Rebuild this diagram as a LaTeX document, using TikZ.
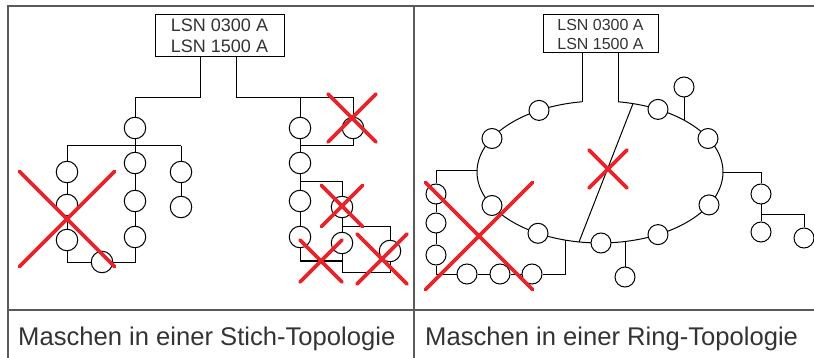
\documentclass[tikz,border=0pt]{standalone}
\usepackage{fontspec}
\setmainfont{Liberation Sans}
\usetikzlibrary{shapes.misc,backgrounds}
\definecolor{xred}{HTML}{E8232A}
\definecolor{framec}{HTML}{5A5A5A}
\definecolor{txt}{HTML}{333333}
\begin{document}
\begin{tikzpicture}[x=1pt,y=-1pt,
  dev/.style={circle, draw, fill=white, minimum size=21.5pt, inner sep=0pt, line width=1pt},
  devs/.style={dev, minimum size=20pt},
  wire/.style={line width=1pt},
  frameline/.style={draw=framec, line width=1.8pt},
  lbox/.style={draw, fill=white, line width=1pt, align=center, inner sep=0pt, text=txt},
  redx/.style={cross out, draw=xred, line width=3.6pt, line cap=round, inner sep=0pt, outer sep=0pt, minimum size=#1},
  caption/.style={anchor=base west, inner sep=0pt, text=txt, font=\fontsize{25.6}{30}\selectfont}]
\useasboundingbox (0,0) rectangle (814,358);

% ---------- left panel ----------
\node[lbox, minimum width=129pt, minimum height=42pt, font=\fontsize{18}{21}\selectfont] (B1) at (219.5,36) {LSN 0300 A\\LSN 1500 A};
\node[dev] (A1) at (135,128) {};
\node[dev] (A2) at (135,163) {};
\node[dev] (A3) at (135,201) {};
\node[dev] (A4) at (135,237) {};
\node[dev] (L1) at (67,172) {};
\node[dev] (L2) at (67,205) {};
\node[dev] (L3) at (67,240) {};
\node[dev] (R1) at (181,172) {};
\node[dev] (R2) at (181,207) {};
\node[dev] (C1) at (102,262) {};
\node[dev] (P1) at (300,128) {};
\node[dev] (P2) at (353,128) {};
\node[dev] (P3) at (300,163) {};
\node[dev] (P4) at (300,201) {};
\node[dev] (P5) at (300,237) {};
\node[dev] (Q1) at (342,207) {};
\node[dev] (Q2) at (342,243) {};
\node[dev] (Q3) at (390,251) {};

\coordinate (b1a) at (200,57);
\coordinate (b1b) at (236,57);
\coordinate (j1) at (200,98);
\coordinate (j2) at (236,98);
\coordinate (h1) at (67,146);
\coordinate (h2) at (181,146);
\coordinate (k1) at (300,98);
\coordinate (k2) at (300,146);
\coordinate (k3) at (300,182);
\coordinate (m1) at (342,227);
\coordinate (m2) at (342,272);
\coordinate (m3) at (342,261);

% ---------- right panel ----------
\node[lbox, minimum width=115pt, minimum height=38pt, font=\fontsize{16}{19}\selectfont] (B2) at (600.5,34) {LSN 0300 A\\LSN 1500 A};
\node[devs] (E1) at (539,110.4) {};
\node[devs] (E2) at (492,138.5) {};
\node[devs] (E3) at (658,109.4) {};
\node[devs] (E4) at (708,138.5) {};
\node[devs] (E5) at (492,205.5) {};
\node[devs] (E6) at (538,233.3) {};
\node[devs] (E7) at (601,243) {};
\node[devs] (E8) at (658,234.6) {};
\node[devs] (E9) at (709,204.9) {};
\node[devs] (T1) at (684,87) {};
\node[devs] (S1) at (761,194) {};
\node[devs] (S2) at (761,232) {};
\node[devs] (S3) at (804,238) {};
\node[devs] (W1) at (436,194) {};
\node[devs] (W2) at (436,223) {};
\node[devs] (W3) at (436,255) {};
\node[devs] (V1) at (467,274) {};
\node[devs] (V2) at (500,274) {};
\node[devs] (V3) at (532,274) {};
\node[devs] (U1) at (625,277) {};

\coordinate (b2a) at (582,53);
\coordinate (b2b) at (618,53);
\coordinate (r1) at (582,101.8);
\coordinate (r2) at (618,101.8);
\coordinate (d1) at (633,103.6);
\coordinate (d2) at (579,242);
\coordinate (t0) at (684,120.1);
\coordinate (re) at (723,173);
\coordinate (le) at (477,171);
\coordinate (lb) at (565,240.1);
\coordinate (ub) at (625,241.5);
\coordinate (s0) at (761,173);
\coordinate (s1) at (761,215);
\coordinate (s2) at (804,215);
\coordinate (w0) at (436,171);
\coordinate (v4) at (565,274);

\begin{pgfonlayer}{background}
  % table frame
  \draw[frameline] (8,358) -- (8,6) -- (814,6);
  \draw[frameline] (414,6) -- (414,358);
  \draw[frameline] (8,310) -- (814,310);
  % left stub topology
  \draw[wire] (b1a) -- (j1) -| (A1);
  \draw[wire] (A1) -- (A2);
  \draw[wire] (A2) -- (A3);
  \draw[wire] (A3) -- (A4);
  \draw[wire] (A4) |- (C1);
  \draw[wire] (L3) |- (C1);
  \draw[wire] (h1) -- (h2);
  \draw[wire] (h1) -- (L1);
  \draw[wire] (L1) -- (L2);
  \draw[wire] (L2) -- (L3);
  \draw[wire] (h2) -- (R1);
  \draw[wire] (R1) -- (R2);
  \draw[wire] (b1b) -- (j2) -| (P2);
  \draw[wire] (k1) -- (P1);
  \draw[wire] (P2) |- (k2);
  \draw[wire] (P1) -- (P3);
  \draw[wire] (P3) -- (P4);
  \draw[wire] (P4) -- (P5);
  \draw[wire] (k3) -| (Q1);
  \draw[wire] (Q1) -- (Q2);
  \draw[wire] (m1) -| (Q3);
  \draw[wire] (Q2) -- (m2) -| (Q3);
  \draw[wire] (P5) |- (m3);
  % ring topology
  \draw[wire] (b2a) -- (r1);
  \draw[wire] (b2b) -- (r2);
  \draw[wire] plot[smooth, samples=160, domain=-261.59:81.59] ({600+123*cos(\x)},{172-71*sin(\x)});
  \draw[wire] (d1) -- (d2);
  \draw[wire] (t0) -- (T1);
  \draw[wire] (re) -- (s0) -- (S1);
  \draw[wire] (S1) -- (S2);
  \draw[wire] (s1) -- (s2) -- (S3);
  \draw[wire] (le) -- (w0) -- (W1);
  \draw[wire] (W1) -- (W2);
  \draw[wire] (W2) -- (W3);
  \draw[wire] (W3) |- (V1);
  \draw[wire] (V1) -- (V2);
  \draw[wire] (V2) -- (V3);
  \draw[wire] (V3) -- (v4) -- (lb);
  \draw[wire] (ub) -- (U1);
\end{pgfonlayer}

% red crosses
\node[redx=95pt] (X1) at (67,219) {};
\node[redx=48pt] (X2) at (352,118) {};
\node[redx=41pt] (X3) at (342,206) {};
\node[redx=42pt] (X4) at (321,261) {};
\node[redx=50pt] (X5) at (382,259) {};
\node[redx=38pt] (X6) at (608,169) {};
\node[redx=107pt] (X7) at (479,236) {};

% captions
\node[caption] (cap1) at (18,345) {Maschen in einer Stich-Topologie};
\node[caption] (cap2) at (425,345) {Maschen in einer Ring-Topologie};
\end{tikzpicture}
\end{document}
